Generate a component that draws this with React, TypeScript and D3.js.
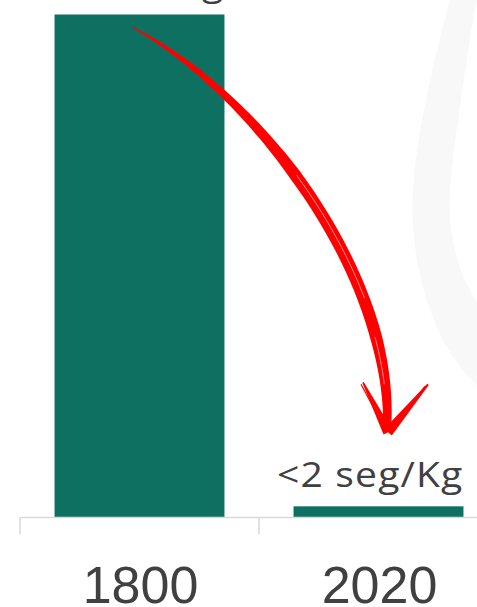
import React from "react";
import * as d3 from "d3";

// data
const years = ["1800", "2020"];
const secondsPerKg = [90, 2];
const valueLabels = ["1,5 min/Kg", "<2 seg/Kg"];

const W = 477;
const H = 607;
const baseY = 517.5;
const topY = 14.5;

const textColor = "#404040";
const barColor = "#0e7060";
const axisColor = "#d9d9d9";

// faint background ring (decoration, page coordinates)
const ringOuter = [[460, -40], [450, 0], [428, 90], [413, 190], [419, 270], [443, 340], [477, 386], [512, 420]];
const ringInner = [[492, -40], [477, 0], [461, 100], [450, 195], [457, 258], [477, 302], [505, 335]];

const App = () => {
  const x = d3
    .scaleBand()
    .domain(years)
    .range([20, 498])
    .paddingInner(0.289)
    .paddingOuter(0.1445);

  const y = d3
    .scaleLinear()
    .domain([0, d3.max(secondsPerKg)])
    .range([baseY, topY]);

  const bw = x.bandwidth();
  const step = x.step();

  // curved arrow from the tall bar down to the short one
  const p0 = [x(years[0]) + bw * 0.45, y(secondsPerKg[0]) + 12];
  const p3 = [x(years[1]) + bw * 0.55, y(secondsPerKg[1]) - 76];
  const p1 = [p0[0] + 130, p0[1] + 69];
  const p2 = [p3[0] + 8, p3[1] - 152];

  const bez = (t) => {
    const a = (1 - t) * (1 - t) * (1 - t);
    const b = 3 * (1 - t) * (1 - t) * t;
    const c = 3 * (1 - t) * t * t;
    const d = t * t * t;
    return [
      a * p0[0] + b * p1[0] + c * p2[0] + d * p3[0],
      a * p0[1] + b * p1[1] + c * p2[1] + d * p3[1],
    ];
  };

  const ts = d3.range(0, 1.0001, 1 / 100);
  const pts = ts.map(bez);
  const left = [];
  const right = [];
  pts.forEach((p, i) => {
    const q = pts[Math.min(i + 1, pts.length - 1)];
    const r = pts[Math.max(i - 1, 0)];
    let dx = q[0] - r[0];
    let dy = q[1] - r[1];
    const len = Math.hypot(dx, dy) || 1;
    dx /= len;
    dy /= len;
    const t = ts[i];
    let hw = 0.3 + 5.7 * Math.min(1, Math.pow(t / 0.45, 0.8));
    if (t > 0.8) hw -= (t - 0.8) * 10;
    left.push([p[0] - dy * hw, p[1] + dx * hw]);
    right.push([p[0] + dy * hw, p[1] - dx * hw]);
  });
  const shaft = d3.line()(left.concat(right.reverse())) + "Z";

  const streak = (from, to, off) =>
    d3.line().curve(d3.curveBasis)(
      ts
        .filter((t) => t >= from && t <= to)
        .map((t) => {
          const p = bez(t);
          return [p[0] + off, p[1] - off * 0.3];
        })
    );

  const tip = [p3[0] + 1, p3[1] + 2];
  const wingL = [tip[0] - 25, tip[1] - 50];
  const wingR = [tip[0] + 40, tip[1] - 48];

  const wing = (a, b, w0, w1) => {
    const dx = b[0] - a[0];
    const dy = b[1] - a[1];
    const len = Math.hypot(dx, dy);
    const nx = -dy / len;
    const ny = dx / len;
    return (
      d3.line()([
        [a[0] + nx * w0, a[1] + ny * w0],
        [b[0] + nx * w1, b[1] + ny * w1],
        [b[0] - nx * w1, b[1] - ny * w1],
        [a[0] - nx * w0, a[1] - ny * w0],
      ]) + "Z"
    );
  };

  const smooth = d3.line().curve(d3.curveNatural);
  const ring =
    smooth(ringOuter) +
    smooth(ringInner.slice().reverse()).replace(/^M/, "L") +
    "Z";

  return (
    <svg
      width={W}
      height={H}
      style={{ position: "absolute", left: 0, top: 0, background: "#fff" }}
    >
      <path d={ring} fill="#f8f8f8" />

      {years.map((yr, i) => (
        <rect
          key={yr}
          x={x(yr)}
          y={y(secondsPerKg[i])}
          width={bw}
          height={baseY - y(secondsPerKg[i])}
          fill={barColor}
        />
      ))}

      {/* axis */}
      <line x1={20} x2={498} y1={baseY} y2={baseY} stroke={axisColor} strokeWidth={1.5} />
      {years.concat(["end"]).map((yr, i) => (
        <line
          key={"t" + i}
          x1={20 + i * step}
          x2={20 + i * step}
          y1={baseY}
          y2={baseY + 17}
          stroke={axisColor}
          strokeWidth={1.5}
        />
      ))}
      {years.map((yr) => (
        <text
          key={"l" + yr}
          x={x(yr) + bw / 2 + 1}
          y={603}
          textAnchor="middle"
          fontFamily="'Liberation Sans', Arial, sans-serif"
          fontSize={52}
          fill={textColor}
        >
          {yr}
        </text>
      ))}

      {/* value labels */}
      {years.map((yr, i) => (
        <text
          key={"v" + yr}
          transform={`translate(${x(yr) + bw},${y(secondsPerKg[i]) - 19}) scale(1.15,1)`}
          textAnchor="end"
          fontFamily="'Open Sans', sans-serif"
          fontSize={34}
          letterSpacing={1}
          fill={textColor}
        >
          {valueLabels[i]}
        </text>
      ))}

      {/* arrow */}
      <g fill="#ff0000" stroke="none">
        <path d={shaft} />
        <path d={wing(tip, wingL, 5, 0.8)} />
        <path d={wing(tip, wingR, 5, 1)} />
      </g>
      <g fill="none" stroke="#ff0000" strokeWidth={1.2}>
        <path d={streak(0.3, 0.95, 3)} />
        <path d={streak(0.4, 0.95, -3)} />
        <path d={d3.line()([[tip[0] - 3, tip[1] - 3], [wingL[0] - 2, wingL[1] + 2]])} />
        <path d={d3.line()([[tip[0] + 3, tip[1] - 4], [wingR[0] - 3, wingR[1] + 2]])} />
      </g>
      <g fill="none" stroke="#fff" strokeWidth={0.7} opacity={0.8}>
        <path d={streak(0.45, 0.72, 1)} />
        <path d={streak(0.8, 0.9, -1)} />
      </g>
    </svg>
  );
};

export default App;
